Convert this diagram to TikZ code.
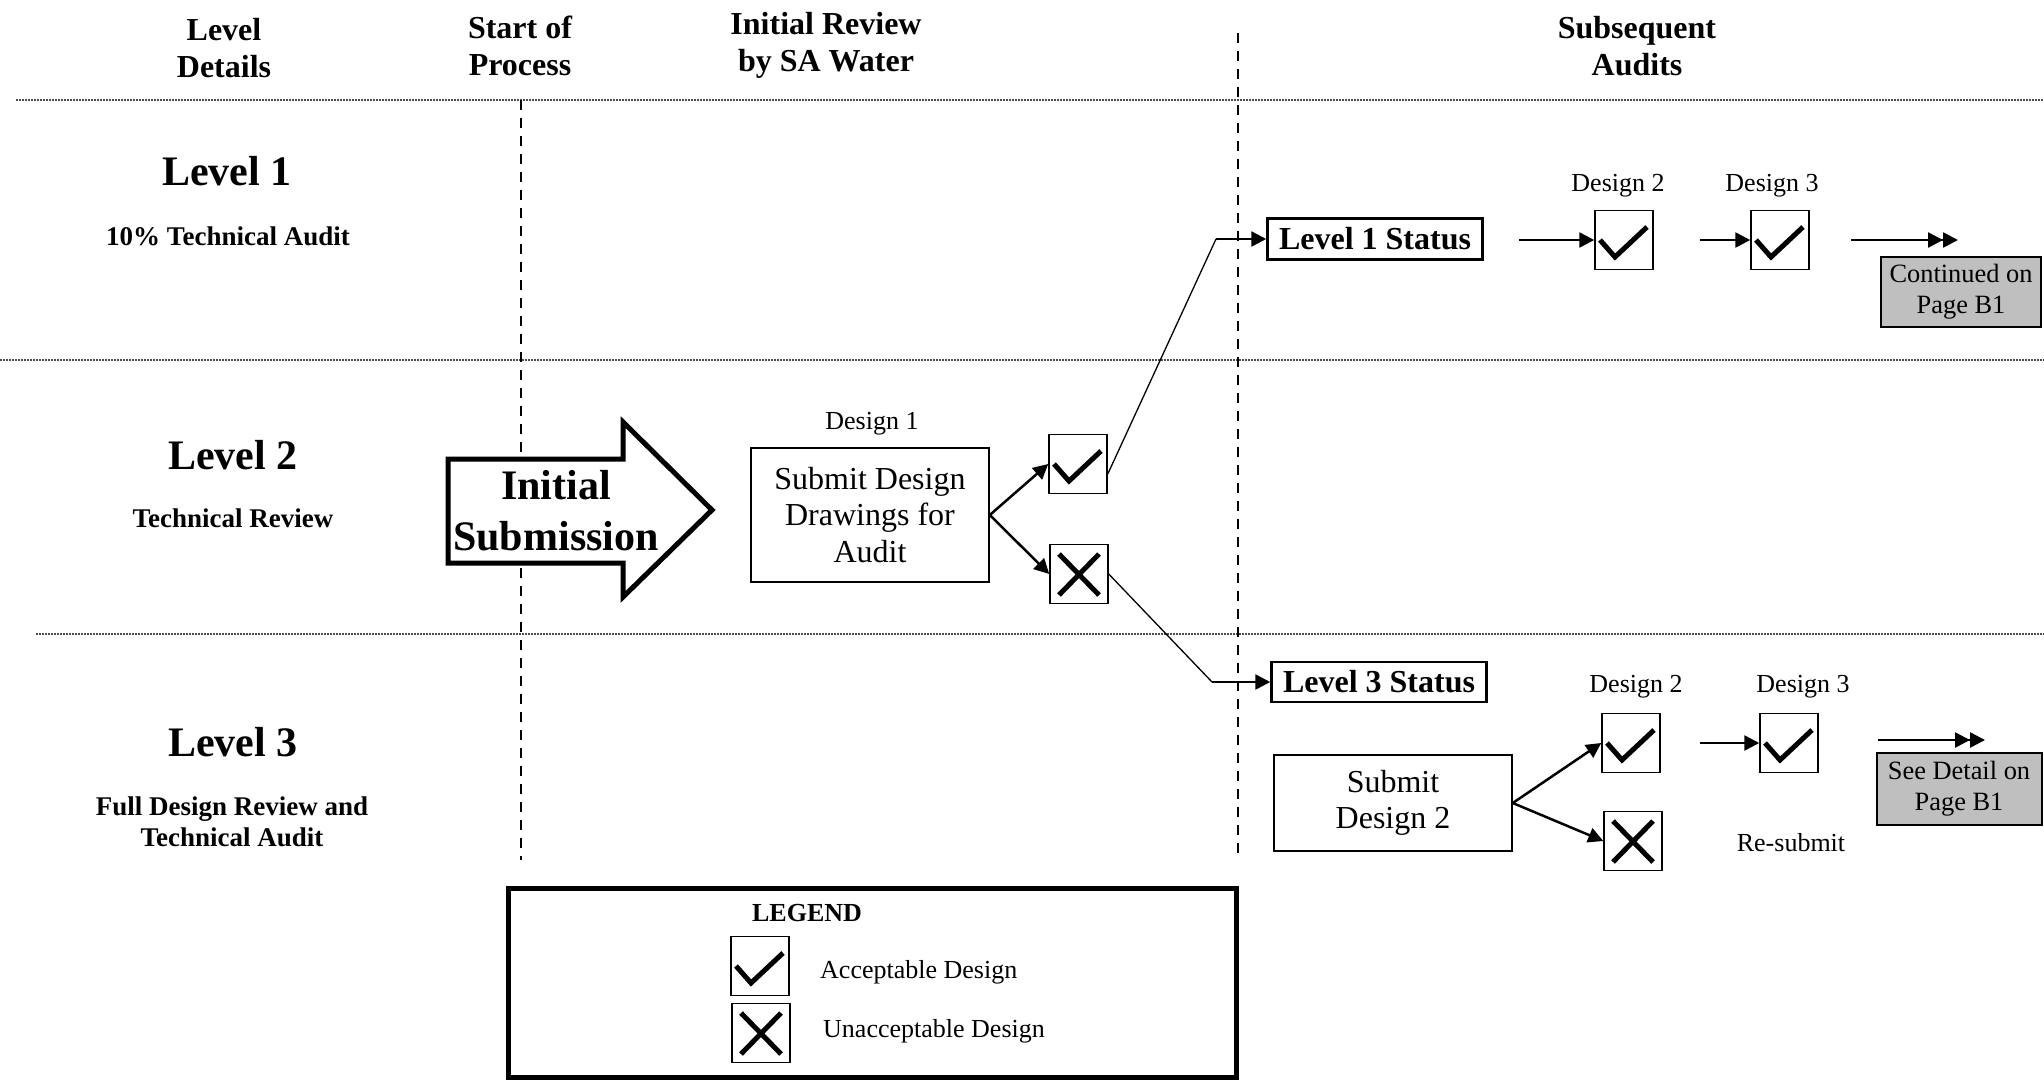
\documentclass[tikz,border=0pt]{standalone}
\usepackage{fontspec}
\setmainfont{Liberation Serif}
\usetikzlibrary{arrows.meta,calc}
\begin{document}
\begin{tikzpicture}[x=1pt,y=-1pt,
  hdr/.style={font=\bfseries\fontsize{32}{37}\selectfont, align=center, inner sep=0},
  lvl/.style={font=\bfseries\fontsize{42}{50}\selectfont, inner sep=0},
  lvlsub/.style={font=\bfseries\fontsize{27}{31}\selectfont, align=center, inner sep=0},
  lbl/.style={font=\fontsize{26}{31}\selectfont, inner sep=0},
  box/.style={draw, line width=1.5pt, align=center, inner sep=0, font=\fontsize{32}{36.5}\selectfont},
  status/.style={draw, line width=2.5pt, inner sep=0, font=\bfseries\fontsize{32}{38}\selectfont},
  graybox/.style={draw, line width=2pt, fill=gray!50, align=center, inner sep=0, font=\fontsize{26.4}{31}\selectfont},
  arr/.style={line width=2.5pt, -{Triangle[length=15pt,width=15pt]}},
  darr/.style={line width=2.5pt, -{Triangle[length=15pt,width=15pt]Triangle[length=15pt,width=15pt]}},
  thinline/.style={line width=1.3pt},
  dotline/.style={line width=1.2pt, black!70, dash pattern=on 1.5pt off 1.5pt},
  dashline/.style={line width=1.8pt, dash pattern=on 10pt off 8pt},
  tickbox/.style={draw, line width=1.5pt, minimum width=58pt, minimum height=59pt, inner sep=0,
    path picture={\draw[line width=5pt]
      ([shift={(-24,0)}]path picture bounding box.center) --
      ([shift={(-9,17)}]path picture bounding box.center) --
      ([shift={(23,-13)}]path picture bounding box.center);}},
  crossbox/.style={draw, line width=1.5pt, minimum width=58pt, minimum height=59pt, inner sep=0,
    path picture={\draw[line width=5pt]
      ([shift={(-20,-20)}]path picture bounding box.center) --
      ([shift={(20,21)}]path picture bounding box.center)
      ([shift={(20,-20)}]path picture bounding box.center) --
      ([shift={(-20,21)}]path picture bounding box.center);}}
]
\useasboundingbox (0,0) rectangle (2044,1080);

% grid lines
\draw[dotline] (16,100) -- (2044,100);
\draw[dotline] (0,360) -- (2044,360);
\draw[dotline] (36,634) -- (2044,634);
\draw[dashline] (521,100) -- (521,860);
\draw[dashline] (1238,33) -- (1238,854);

% headers
\node[hdr] (h1) at (224,48) {Level\\Details};
\node[hdr] (h2) at (520,46) {Start of\\Process};
\node[hdr] (h3) at (826,45) {Initial Review\\by SA Water};
\node[hdr] (h4) at (1637,46) {Subsequent\\Audits};

% level labels
\node[lvl] (lv1) at (227,171) {Level 1};
\node[lvlsub] (lv1s) at (228,236) {10\% Technical Audit};
\node[lvl] (lv2) at (233,455) {Level 2};
\node[lvlsub] (lv2s) at (233,518) {Technical Review};
\node[lvl] (lv3) at (233,742) {Level 3};
\node[lvlsub] (lv3s) at (232,822) {Full Design Review and\\Technical Audit};

% initial submission arrow
\draw[line width=5pt, line join=miter, fill=white]
  (448,459) -- (623,459) -- (623,422) -- (712,510) -- (623,597) -- (623,563) -- (448,563) -- cycle;
\node[font=\bfseries\fontsize{42}{51}\selectfont, align=center, inner sep=0] (init) at (556,511) {Initial\\Submission};

% design 1
\node[lbl] (d1l) at (872,424) {Design 1};
\node[box, minimum width=238pt, minimum height=134pt] (d1) at (870,515) {Submit Design\\Drawings for\\Audit};
\node[tickbox] (ok1) at (1078,464) {};
\node[crossbox] (x1) at (1079,574) {};
\draw[arr] (d1.east) -- (ok1.west);
\draw[arr] (d1.east) -- (x1.west);

% level 1 status
\node[status, minimum width=215pt, minimum height=41pt] (l1s) at (1375,239) {Level 1 Status};
\coordinate (c1) at (1216,239);
\draw[thinline] ([yshift=-10pt]ok1.east) -- (c1);
\draw[arr] (c1) -- (l1s.west);

% level 3 status
\node[status, minimum width=215pt, minimum height=40pt] (l3s) at (1379,682) {Level 3 Status};
\coordinate (c3) at (1212,682);
\draw[thinline] (x1.east) -- (c3);
\draw[arr] (c3) -- (l3s.west);

% level 1 row
\node[lbl] (l1d2) at (1618,186) {Design 2};
\node[lbl] (l1d3) at (1772,186) {Design 3};
\node[tickbox] (ok2) at (1624,240) {};
\node[tickbox] (ok3) at (1780,240) {};
\coordinate (a1) at (1519,240);
\coordinate (a2) at (1700,240);
\coordinate (a3s) at (1851,240);
\coordinate (a3e) at (1958,240);
\draw[arr] (a1) -- (ok2.west);
\draw[arr] (a2) -- (ok3.west);
\draw[darr] (a3s) -- (a3e);
\node[graybox, minimum width=160pt, minimum height=70pt] (cont) at (1961,292) {Continued on\\Page B1};

% level 3 row
\node[box, minimum width=238pt, minimum height=96pt] (sd2) at (1393,803) {Submit\\Design 2};
\node[lbl] (l3d2) at (1636,687) {Design 2};
\node[lbl] (l3d3) at (1803,687) {Design 3};
\node[tickbox] (ok4) at (1631,743) {};
\node[crossbox] (x4) at (1633,841) {};
\node[tickbox] (ok5) at (1789,743) {};
\draw[arr] (sd2.east) -- (ok4.west);
\draw[arr] (sd2.east) -- (x4.west);
\coordinate (b1) at (1700,743);
\coordinate (b2s) at (1878,740);
\coordinate (b2e) at (1985,740);
\draw[arr] (b1) -- (ok5.west);
\draw[darr] (b2s) -- (b2e);
\node[lbl] (resub) at (1791,843) {Re-submit};
\node[graybox, minimum width=165pt, minimum height=72pt] (see) at (1959,789) {See Detail on\\Page B1};

% legend
\node[draw, line width=5pt, minimum width=728pt, minimum height=189pt, inner sep=0] (leg) at (872,982.5) {};
\node[font=\bfseries\fontsize{26}{31}\selectfont, inner sep=0] (legt) at (807,913) {LEGEND};
\node[tickbox] (okL) at (760,966) {};
\node[crossbox] (xL) at (761,1033) {};
\node[lbl, anchor=west] (okLt) at (820,972) {Acceptable Design};
\node[lbl, anchor=west] (xLt) at (823,1031) {Unacceptable Design};
\end{tikzpicture}
\end{document}
